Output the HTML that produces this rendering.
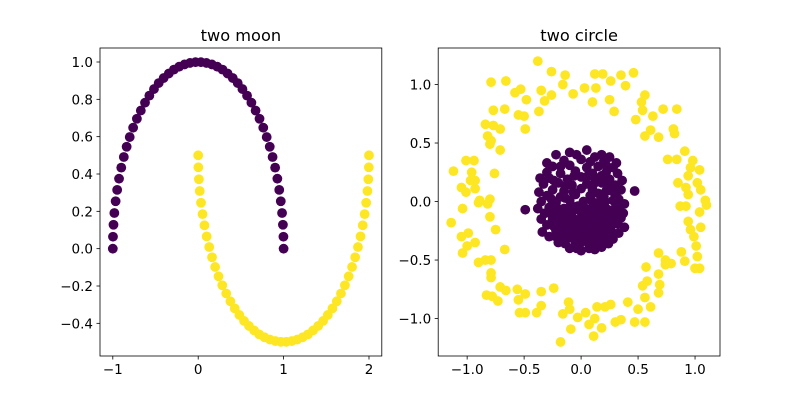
<!DOCTYPE html>
<html><head><meta charset="utf-8">
<style>html,body{margin:0;padding:0;background:#fff}svg{display:block}text{font-family:"DejaVu Sans","Liberation Sans",sans-serif;fill:#000}</style>
</head><body>
<svg id="fig" width="800" height="400" viewBox="0 0 800 400" xmlns="http://www.w3.org/2000/svg"></svg>
<script>
// ---- data ----
const moonUpperX=[1.000,0.998,0.992,0.982,0.967,0.949,0.927,0.901,0.871,0.838,0.802,0.762,0.718,0.672,0.623,0.572,0.518,0.463,0.405,0.345,0.285,0.223,0.160,0.096,0.032,-0.032,-0.096,-0.160,-0.223,-0.285,-0.345,-0.405,-0.463,-0.518,-0.572,-0.623,-0.672,-0.718,-0.762,-0.802,-0.838,-0.871,-0.901,-0.927,-0.949,-0.967,-0.982,-0.992,-0.998,-1.000];
const moonUpperY=[0.000,0.064,0.128,0.191,0.254,0.315,0.375,0.434,0.491,0.546,0.598,0.648,0.696,0.740,0.782,0.820,0.855,0.887,0.914,0.938,0.959,0.975,0.987,0.995,0.999,0.999,0.995,0.987,0.975,0.959,0.938,0.914,0.887,0.855,0.820,0.782,0.740,0.696,0.648,0.598,0.546,0.491,0.434,0.375,0.315,0.254,0.191,0.128,0.064,0.000];
const moonLowerX=[0.000,0.002,0.008,0.018,0.033,0.051,0.073,0.099,0.129,0.162,0.198,0.238,0.282,0.328,0.377,0.428,0.482,0.537,0.595,0.655,0.715,0.777,0.840,0.904,0.968,1.032,1.096,1.160,1.223,1.285,1.345,1.405,1.463,1.518,1.572,1.623,1.672,1.718,1.762,1.802,1.838,1.871,1.901,1.927,1.949,1.967,1.982,1.992,1.998,2.000];
const moonLowerY=[0.500,0.436,0.372,0.309,0.246,0.185,0.125,0.066,0.009,-0.046,-0.098,-0.148,-0.196,-0.240,-0.282,-0.320,-0.355,-0.387,-0.414,-0.438,-0.459,-0.475,-0.487,-0.495,-0.499,-0.499,-0.495,-0.487,-0.475,-0.459,-0.438,-0.414,-0.387,-0.355,-0.320,-0.282,-0.240,-0.196,-0.148,-0.098,-0.046,0.009,0.066,0.125,0.185,0.246,0.309,0.372,0.436,0.500];
const outerPts=[[-0.38,1.20],[-0.26,1.11],[-0.14,1.08],[0.12,1.09],[0.19,1.09],[0.35,1.08],[0.46,1.10],[-0.79,1.02],[-0.66,1.03],[0.26,1.03],[0.39,0.99],[-0.16,1.00],[0.03,0.97],[0.13,0.97],[-0.58,0.93],[-0.53,0.96],[-0.35,0.95],[-0.26,0.91],[-0.07,0.92],[-0.48,0.87],[-0.32,0.86],[0.10,0.85],[0.25,0.87],[0.56,0.91],[0.53,0.85],[-0.77,0.78],[-0.67,0.79],[-0.55,0.74],[-0.50,0.73],[-0.37,0.77],[0.29,0.77],[0.54,0.78],[0.72,0.79],[0.84,0.79],[0.63,0.73],[0.48,0.70],[-0.84,0.66],[-0.77,0.65],[-0.71,0.62],[-0.49,0.62],[0.61,0.61],[0.81,0.62],[0.82,0.58],[0.56,0.56],[0.68,0.55],[-0.82,0.56],[-0.79,0.52],[-0.80,0.49],[-0.71,0.44],[0.91,0.43],[-1.01,0.35],[-0.94,0.35],[0.76,0.36],[0.84,0.36],[0.98,0.35],[-1.12,0.26],[-0.96,0.25],[-0.76,0.24],[0.96,0.29],[1.04,0.27],[-0.97,0.18],[-0.93,0.18],[0.94,0.22],[-1.05,0.12],[-0.93,0.11],[0.85,0.16],[1.02,0.16],[0.92,0.12],[1.05,0.10],[-1.01,0.08],[0.94,0.06],[-0.89,0.01],[-0.80,0.02],[1.09,0.01],
[-0.90,-0.01],[-0.82,-0.02],[-1.04,-0.06],[-0.80,-0.13],[-1.14,-0.18],[-0.75,-0.24],[-1.05,-0.30],[-0.99,-0.27],[-0.93,-0.35],[-1.00,-0.38],[-1.04,-0.44],[-0.67,-0.41],[-0.90,-0.52],[-0.84,-0.50],[-0.79,-0.50],[-0.79,-0.61],[-0.79,-0.65],[-0.71,-0.73],[-0.66,-0.76],[-0.56,-0.75],[-0.49,-0.79],[-0.35,-0.77],[-0.24,-0.74],[-0.83,-0.80],[-0.78,-0.81],[-0.73,-0.85],[-0.55,-0.84],[-0.54,-0.95],[-0.49,-0.95],[-0.39,-0.95],[-0.35,-0.89],[-0.11,-0.86],[-0.16,-0.96],[-0.10,-0.92],[-0.03,-0.99],[0.04,-0.95],[0.12,-1.00],[0.07,-1.05],[0.14,-0.90],[0.21,-0.90],[0.26,-0.88],[0.18,-1.08],[-0.09,-1.09],[0.11,-1.15],[-0.18,-1.20],[0.30,-1.03],[0.35,-1.01],[0.41,-0.86],[0.47,-1.03],[0.56,-1.03],[0.50,-0.92],[0.56,-0.82],[0.61,-0.90],[0.54,-0.72],[0.58,-0.68],[0.68,-0.78],[0.69,-0.71],[0.57,-0.56],[0.68,-0.62],[0.74,-0.54],[0.79,-0.53],[0.68,-0.44],[0.74,-0.50],[0.88,-0.43],[0.91,-0.51],[1.00,-0.57],[1.04,-0.57],[1.02,-0.47],[1.01,-0.38],[0.99,-0.30],[0.96,-0.24],[1.05,-0.22],[0.94,-0.17],[1.04,-0.09],[1.10,-0.03],[0.87,-0.04],[0.92,-0.04]];
const innerPts=[[-0.10,0.42],[0.05,0.44],[0.18,0.40],[-0.22,0.40],[0.25,0.38],[-0.15,0.35],[0.00,0.36],[0.08,0.34],[0.20,0.35],[-0.25,0.30],[-0.10,0.31],[0.05,0.29],[0.15,0.30],[0.28,0.29],[-0.30,0.25],[-0.18,0.24],[-0.05,0.26],[0.10,0.24],[0.22,0.25],[0.32,0.24],[-0.28,0.20],[-0.12,0.19],[0.00,0.21],[0.12,0.20],[0.25,0.19],[-0.33,0.15],[-0.20,0.16],[-0.08,0.14],[0.05,0.15],[0.18,0.16],[0.30,0.14],[-0.25,0.10],[-0.15,0.09],[0.00,0.11],[0.10,0.10],[0.22,0.09],[0.35,0.10],[-0.30,0.05],[-0.18,0.04],[-0.05,0.06],[0.08,0.05],[0.20,0.04],[0.30,0.06],[-0.35,0.00],[-0.22,-0.01],[-0.10,0.01],[0.02,0.00],[0.15,-0.01],[0.28,0.01],[0.38,-0.02],[-0.28,-0.05],[-0.15,-0.06],[-0.03,-0.04],[0.10,-0.05],[0.22,-0.06],[0.33,-0.04],[-0.32,-0.10],[-0.20,-0.11],[-0.08,-0.09],[0.05,-0.10],[0.17,-0.11],[0.30,-0.09],[-0.25,-0.15],[-0.12,-0.16],[0.00,-0.14],[0.12,-0.15],[0.25,-0.16],[0.35,-0.14],[-0.30,-0.20],[-0.18,-0.21],[-0.05,-0.19],[0.08,-0.20],[0.20,-0.21],[0.32,-0.19],[-0.22,-0.25],[-0.10,-0.26],[0.02,-0.24],[0.15,-0.25],[0.27,-0.26],[-0.28,-0.30],[-0.15,-0.31],[-0.02,-0.29],[0.10,-0.30],[0.22,-0.31],[-0.20,-0.35],[-0.05,-0.36],[0.05,-0.34],[0.18,-0.35],[-0.10,-0.40],[0.00,-0.42],[0.12,-0.41],[-0.49,-0.07],[0.47,0.09],
[-0.04,0.40],[0.12,0.38],[-0.18,0.30],[0.22,0.31],[-0.06,0.22],[0.06,0.22],[0.18,0.22],[-0.24,0.18],[-0.14,0.13],[0.11,0.15],[0.24,0.13],[-0.37,0.08],[-0.07,0.08],[0.15,0.07],[0.27,0.09],[-0.26,0.02],[-0.14,0.03],[0.09,0.01],[0.21,0.00],[0.33,0.02],[-0.38,-0.06],[-0.21,-0.06],[-0.09,-0.03],[0.04,-0.06],[0.16,-0.05],[0.28,-0.07],[-0.26,-0.11],[-0.14,-0.12],[0.00,-0.09],[0.11,-0.11],[0.24,-0.11],[0.37,-0.10],[-0.35,-0.15],[-0.19,-0.16],[-0.06,-0.15],[0.06,-0.16],[0.19,-0.15],[0.30,-0.16],[-0.24,-0.21],[-0.11,-0.21],[0.02,-0.20],[0.14,-0.20],[0.26,-0.21],[0.38,-0.22],[-0.34,-0.26],[-0.16,-0.26],[-0.04,-0.25],[0.09,-0.25],[0.21,-0.25],[0.33,-0.27],[-0.22,-0.30],[-0.08,-0.31],[0.04,-0.30],[0.16,-0.30],[0.28,-0.32],[-0.14,-0.36],[0.00,-0.35],[0.11,-0.36],[0.24,-0.36],[-0.04,-0.40],[0.07,-0.40],[0.18,-0.39],[-0.30,0.33],[0.31,0.33],[-0.36,0.20],[0.36,0.18]];
const leftXTicks=[-1,0,1,2];
const leftYTicks=[-0.4,-0.2,0.0,0.2,0.4,0.6,0.8,1.0];
const rightTicks=[-1.0,-0.5,0.0,0.5,1.0];
const PURPLE='#440154', YELLOW='#fde725';
// ---- drawing ----
const NS='http://www.w3.org/2000/svg';
const svg=document.getElementById('fig');
function mk(tag,attrs,parent){const e=document.createElementNS(NS,tag);for(const k in attrs)e.setAttribute(k,attrs[k]);(parent||svg).appendChild(e);return e;}
function fmt(v,d){const s=v.toFixed(d);return s.replace('-','\u2212');}
function makeAxes(name,x0,x1,y0,y1,dx,dy,title){
  const g=mk('g',{});
  
  
  const sx=v=>x0+(v-dx[0])/(dx[1]-dx[0])*(x1-x0);
  const sy=v=>y1-(v-dy[0])/(dy[1]-dy[0])*(y1-y0);
  const t=mk('text',{x:(x0+x1)/2,y:y0-7,'text-anchor':'middle','font-size':'16.2'},g);
  t.textContent=title;
  
  
  const pts=mk('g',{},g);
  
  
  return {g,sx,sy,pts,x0,x1,y0,y1};
}
function dot(ax,x,y,c){const e=mk('circle',{cx:ax.sx(x).toFixed(2),cy:ax.sy(y).toFixed(2),r:4.9,fill:c},ax.pts);
  
  }
function frame(ax,xt,yt,dec){
  const g=ax.g;
  xt.forEach(v=>{const x=ax.sx(v);mk('line',{x1:x,x2:x,y1:ax.y1,y2:ax.y1+3.5,stroke:'#000','stroke-width':0.8},g);
    const t=mk('text',{x:x,y:ax.y1+18,'text-anchor':'middle','font-size':'13.5'},g);t.textContent=fmt(v,dec);
    
    });
  yt.forEach(v=>{const y=ax.sy(v);mk('line',{x1:ax.x0,x2:ax.x0-3.5,y1:y,y2:y,stroke:'#000','stroke-width':0.8},g);
    const t=mk('text',{x:ax.x0-7,y:y+5,'text-anchor':'end','font-size':'13.5'},g);t.textContent=fmt(v,1);
    
    });
  const r=mk('rect',{x:ax.x0,y:ax.y0,width:ax.x1-ax.x0,height:ax.y1-ax.y0,fill:'none',stroke:'#000','stroke-width':0.8},g);
  
  
}
const L=makeAxes('two-moon-axes',100,381.8,48,356,[-1.15,2.15],[-0.575,1.075],'two moon');
moonUpperX.forEach((x,i)=>dot(L,x,moonUpperY[i],PURPLE));
moonLowerX.forEach((x,i)=>dot(L,x,moonLowerY[i],YELLOW));
frame(L,leftXTicks,leftYTicks,0);
const R=makeAxes('two-circle-axes',438.2,720,48,356,[-1.254,1.219],[-1.32,1.312],'two circle');
outerPts.forEach(p=>dot(R,p[0],p[1],YELLOW));
innerPts.forEach(p=>dot(R,p[0],p[1],PURPLE));
frame(R,rightTicks,rightTicks,1);
</script>
</body></html>
